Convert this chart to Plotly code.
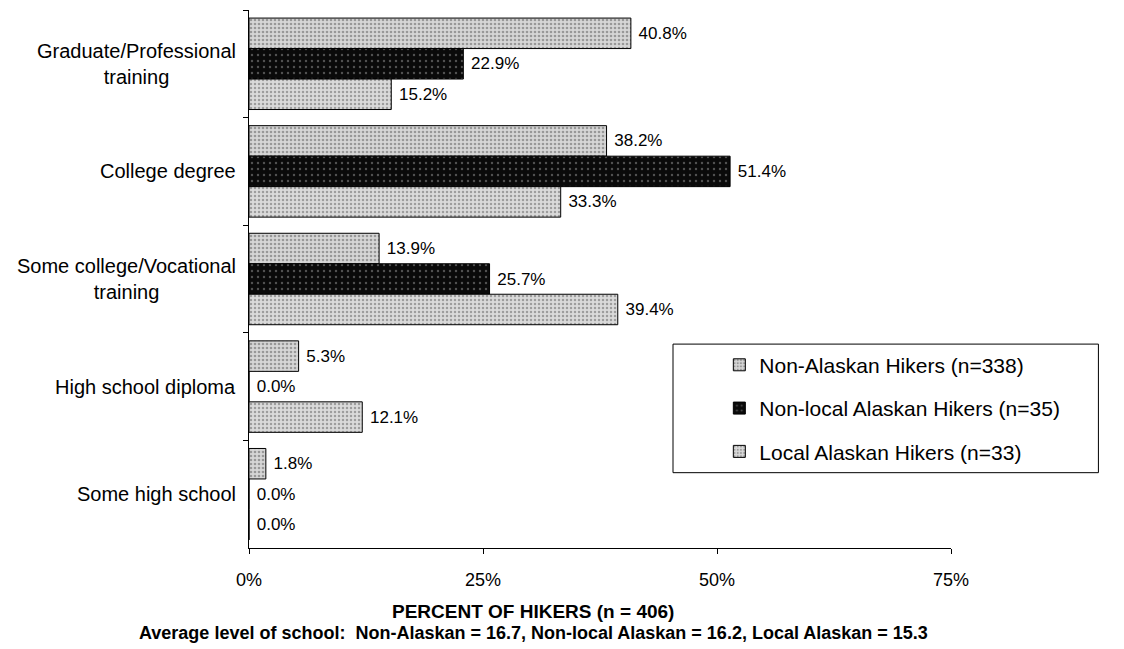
import plotly.graph_objects as go

# Education level of hikers by residency group
categories = [
    "Graduate/Professional<br>training",
    "College degree",
    "Some college/Vocational<br>training",
    "High school diploma",
    "Some high school",
]
non_alaskan = [40.8, 38.2, 13.9, 5.3, 1.8]
non_local_alaskan = [22.9, 51.4, 25.7, 0.0, 0.0]
local_alaskan = [15.2, 33.3, 39.4, 12.1, 0.0]

series_names = [
    "Non-Alaskan Hikers (n=338)",
    "Non-local Alaskan Hikers (n=35)",
    "Local Alaskan Hikers (n=33)",
]
x_tick_values = [0, 25, 50, 75]
x_tick_labels = ["0%", "25%", "50%", "75%"]

FONT = "Liberation Sans, Arial, sans-serif"

styles = [
    dict(bg="#d6d6d6", fg="#5a5a5a", shape=".", size=4, solidity=0.35),
    dict(bg="#0a0a0a", fg="#9a9a9a", shape=".", size=6, solidity=0.12),
    dict(bg="#dadada", fg="#606060", shape=".", size=4, solidity=0.3),
]

fig = go.Figure()
for i, (name, vals, st) in enumerate(zip(series_names,
                                          [non_alaskan, non_local_alaskan, local_alaskan],
                                          styles)):
    fig.add_trace(go.Bar(
        y=categories,
        x=vals,
        name=name,
        orientation="h",
        legendgroup=f"g{i}",
        marker=dict(
            color=st["bg"],
            line=dict(color="black", width=1),
            pattern=dict(shape=st["shape"], fgcolor=st["fg"], bgcolor=st["bg"],
                         size=st["size"], solidity=st["solidity"]),
        ),
        text=[f"\u00a0{v:.1f}%" for v in vals],
        textposition="outside",
        textfont=dict(family=FONT, size=17, color="black"),
        cliponaxis=False,
    ))

# Category labels centred on two lines, right-aligned to the axis
annotations = []
for c in categories:
    annotations.append(dict(
        x=0, xref="paper", y=c, yref="y",
        xanchor="right", xshift=-11, yanchor="middle",
        text=c, align="center", showarrow=False,
        font=dict(family=FONT, size=20, color="black"),
    ))

annotations.append(dict(
    x=0.405, xref="paper", y=-0.118, yref="paper",
    xanchor="center", yanchor="middle",
    text="<b>PERCENT OF HIKERS (n = 406)</b>", showarrow=False,
    font=dict(family=FONT, size=19, color="black"),
))
annotations.append(dict(
    x=0.405, xref="paper", y=-0.158, yref="paper",
    xanchor="center", yanchor="middle",
    text="<b>Average level of school:  Non-Alaskan = 16.7, Non-local Alaskan = 16.2, Local Alaskan = 15.3</b>",
    showarrow=False,
    font=dict(family=FONT, size=18, color="black"),
))

fig.update_layout(
    width=1124, height=649,
    margin=dict(l=249, r=173, t=10, b=101),
    paper_bgcolor="white", plot_bgcolor="white",
    barmode="group", bargap=0.15, bargroupgap=0,
    font=dict(family=FONT, size=17, color="black"),
    showlegend=True,
    legend=dict(
        x=0.67, y=0.378, xanchor="left", yanchor="top",
        bgcolor="rgba(0,0,0,0)", borderwidth=0,
        traceorder="grouped", tracegroupgap=13,
        font=dict(family=FONT, size=21, color="black"),
        itemwidth=30,
    ),
    annotations=annotations,
    shapes=[dict(
        type="rect", xref="paper", yref="paper",
        x0=0.604, x1=1.21, y0=0.14, y1=0.379,
        line=dict(color="black", width=1), fillcolor="white", layer="below",
    )],
    xaxis=dict(
        range=[0, 75], tickvals=x_tick_values, ticktext=x_tick_labels,
        showgrid=False, zeroline=False, showline=True, linecolor="black", linewidth=1,
        ticks="outside", ticklen=5, tickcolor="black", ticklabelstandoff=10,
        tickfont=dict(family=FONT, size=18, color="black"),
    ),
    yaxis=dict(
        autorange="reversed", showticklabels=False,
        showgrid=False, zeroline=False, showline=True, linecolor="black", linewidth=1,
        ticks="outside", ticklen=5, tickcolor="black", tickson="boundaries",
    ),
)

fig.write_html("out.html")
